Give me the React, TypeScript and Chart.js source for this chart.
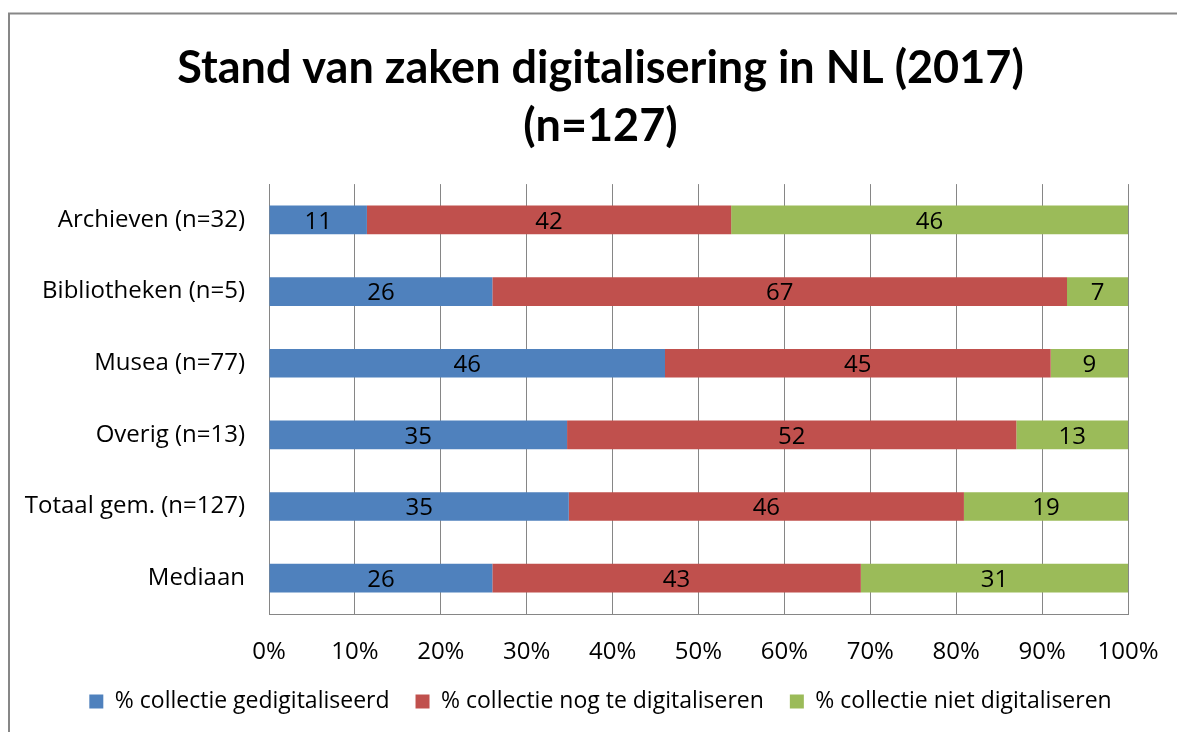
import React, { useEffect, useRef } from "react";
import { Chart, registerables } from "chart.js";

Chart.register(...registerables);

const categories = [
  "Archieven (n=32)",
  "Bibliotheken (n=5)",
  "Musea (n=77)",
  "Overig (n=13)",
  "Totaal gem. (n=127)",
  "Mediaan",
];
const gedigitaliseerd = [11.4, 26.0, 46.1, 34.7, 34.9, 26.0];
const nogTeDigitaliseren = [42.4, 66.9, 44.9, 52.3, 46.0, 42.9];
const nietDigitaliseren = [46.2, 7.1, 9.0, 13.0, 19.1, 31.1];
const seriesNames = [
  "% collectie gedigitaliseerd",
  "% collectie nog te digitaliseren",
  "% collectie niet digitaliseren",
];
const xTicks = [0, 10, 20, 30, 40, 50, 60, 70, 80, 90, 100];

const FONT = "'Open Sans', sans-serif";
const TITLE_FONT = "Lato, 'Open Sans', sans-serif";
const FS = 24;
const LEGEND_FS = 23;

export default function App() {
  const ref = useRef<HTMLCanvasElement | null>(null);
  useEffect(() => {
    const canvas = ref.current!;
    const raw = [gedigitaliseerd, nogTeDigitaliseren, nietDigitaliseren];
    const totals = categories.map((_, i) => raw.reduce((s, a) => s + a[i], 0));
    const colors = ["#4F81BD", "#C0504D", "#9BBB59"];

    const frame = {
      id: "frame",
      beforeDraw(chart: any) {
        const ctx = chart.ctx;
        ctx.save();
        ctx.fillStyle = "#ffffff";
        ctx.fillRect(0, 0, chart.width, chart.height);
        ctx.strokeStyle = "#878787";
        ctx.lineWidth = 2;
        ctx.beginPath();
        ctx.moveTo(9, chart.height);
        ctx.lineTo(9, 13.5);
        ctx.lineTo(chart.width, 13.5);
        ctx.stroke();
        ctx.restore();
      },
    };

    const labels = {
      id: "barLabels",
      afterDatasetsDraw(chart: any) {
        const ctx = chart.ctx;
        ctx.save();
        ctx.font = `${FS}px ${FONT}`;
        ctx.fillStyle = "#000000";
        ctx.textAlign = "center";
        ctx.textBaseline = "middle";
        chart.data.datasets.forEach((ds: any, di: number) => {
          const meta = chart.getDatasetMeta(di);
          meta.data.forEach((bar: any, i: number) => {
            const v = raw[di][i];
            const x = (bar.x + bar.base) / 2;
            ctx.fillText(String(Math.round(v)), x, bar.y + 2);
          });
        });
        ctx.restore();
      },
    };

    const chart = new Chart(canvas, {
      type: "bar",
      data: {
        labels: categories,
        datasets: raw.map((arr, di) => ({
          label: seriesNames[di],
          data: arr.map((v, i) => (v / totals[i]) * 100),
          backgroundColor: colors[di],
          borderWidth: 0,
          categoryPercentage: 1,
          barPercentage: 0.4,
        })),
      },
      options: {
        indexAxis: "y",
        responsive: false,
        animation: false,
        layout: { padding: { top: 39, right: 0, bottom: 9, left: 24 } },
        plugins: {
          title: {
            display: true,
            text: ["Stand van zaken digitalisering in NL (2017)", "(n=127)"],
            color: "#000000",
            font: { family: TITLE_FONT, size: 45, weight: "bold", lineHeight: 1.29 },
            padding: { top: 0, bottom: 29 },
          },
          legend: {
            position: "bottom",
            labels: {
              color: "#000000",
              font: { family: FONT, size: LEGEND_FS },
              boxWidth: 14,
              boxHeight: 14,
              padding: 26,
            },
          },
          tooltip: { enabled: false },
        },
        scales: {
          x: {
            stacked: true,
            min: 0,
            max: 100,
            afterBuildTicks(scale: any) {
              scale.ticks = xTicks.map((v) => ({ value: v }));
            },
            ticks: {
              callback: (v: any) => v + "%",
              color: "#000000",
              font: { family: FONT, size: FS },
              padding: 24,
              maxRotation: 0,
            },
            grid: { color: "#868686", drawTicks: false, lineWidth: 1 },
            border: { color: "#868686" },
            afterFit(scale: any) {
              scale.paddingRight = 49;
              scale.paddingLeft = 0;
              scale.height = 50;
            },
          },
          y: {
            stacked: true,
            ticks: {
              color: "#000000",
              font: { family: FONT, size: FS },
              padding: 24,
            },
            grid: { display: false, drawTicks: false },
            border: { color: "#868686" },
            afterFit(scale: any) {
              scale.width = 245;
            },
          },
        },
      },
      plugins: [frame, labels],
    } as any);
    return () => chart.destroy();
  }, []);
  return (
    <canvas
      ref={ref}
      width={1177}
      height={732}
      style={{ position: "fixed", left: 0, top: 0, display: "block" }}
    />
  );
}
